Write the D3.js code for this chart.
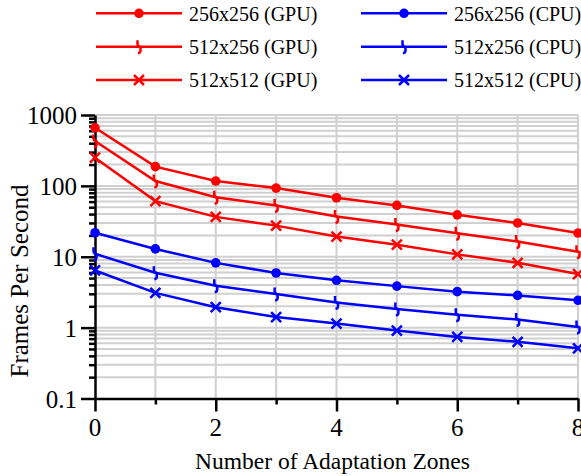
<!DOCTYPE html>
<html>
<head>
<meta charset="utf-8">
<script src="https://cdn.jsdelivr.net/npm/d3@7"></script>
<style>
  body { margin: 0; background: #fff; }
  text { font-family: "Liberation Serif", "Times New Roman", serif; fill: #000; }
</style>
</head>
<body>
<div id="my_dataviz"></div>
<script>
// data
var zones = [0, 1, 2, 3, 4, 5, 6, 7, 8];
var gpu256x256 = [660, 187, 117, 93, 68, 53, 39, 30, 21.6];
var gpu512x256 = [430, 117, 69, 53, 37, 28.5, 21.5, 16.4, 11.8];
var gpu512x512 = [250, 61, 36.5, 27.5, 19.3, 14.8, 10.8, 8.2, 5.7];
var cpu256x256 = [21.8, 12.9, 8.2, 5.9, 4.65, 3.85, 3.22, 2.85, 2.43];
var cpu512x256 = [11, 5.95, 3.9, 2.98, 2.27, 1.83, 1.52, 1.3, 1.02];
var cpu512x512 = [6.4, 3.09, 1.94, 1.41, 1.14, 0.91, 0.74, 0.63, 0.51];
var yTickLabels = ["0.1", "1", "10", "100", "1000"];
var xTickLabels = ["0", "2", "4", "6", "8"];

var series = [
    { name: "256x256 (GPU)", values: gpu256x256, color: "#ff0000", marker: "circle" },
    { name: "512x256 (GPU)", values: gpu512x256, color: "#ff0000", marker: "squiggle" },
    { name: "512x512 (GPU)", values: gpu512x512, color: "#ff0000", marker: "cross" },
    { name: "256x256 (CPU)", values: cpu256x256, color: "#0000ff", marker: "circle" },
    { name: "512x256 (CPU)", values: cpu512x256, color: "#0000ff", marker: "squiggle" },
    { name: "512x512 (CPU)", values: cpu512x512, color: "#0000ff", marker: "cross" }
];

var W = 581, H = 476;
var margin = { top: 115, right: 3, bottom: 77.5, left: 95 },
    width = W - margin.left - margin.right,
    height = H - margin.top - margin.bottom;

var svg = d3
    .select("#my_dataviz")
    .append("svg")
    .attr("width", W)
    .attr("height", H);

var g = svg.append("g")
    .attr("transform", "translate(" + margin.left + "," + margin.top + ")");

var x = d3.scaleLinear().domain([0, 8]).range([0, width]);
var y = d3.scaleLog().domain([0.1, 1000]).range([height, 0]);

// all log ticks 1..9 per decade
var minorVals = [];
[0.1, 1, 10, 100].forEach(function (d) {
    for (var k = 1; k < 10; k++) minorVals.push(d * k);
});
minorVals.push(1000);
var majorVals = yTickLabels.map(Number);

// grid
g.append("g")
    .selectAll("line")
    .data(minorVals.filter(function (d) { return d > 0.1; }))
    .enter()
    .append("line")
    .attr("x1", 0)
    .attr("x2", width)
    .attr("y1", function (d) { return y(d); })
    .attr("y2", function (d) { return y(d); })
    .style("stroke", "#d0d0d0")
    .style("stroke-width", 2);

g.append("g")
    .selectAll("line")
    .data(zones.slice(1))
    .enter()
    .append("line")
    .attr("x1", function (d) { return x(d); })
    .attr("x2", function (d) { return x(d); })
    .attr("y1", 0)
    .attr("y2", height)
    .style("stroke", "#d0d0d0")
    .style("stroke-width", 2);

// Y axis: major ticks long, minor short (labels drawn separately)
var yAxis = g.append("g")
    .call(d3.axisLeft(y)
        .tickValues(minorVals)
        .tickSizeInner(6)
        .tickSizeOuter(0)
        .tickFormat(""));
yAxis.selectAll(".tick line")
    .attr("x2", function (d) { return majorVals.indexOf(d) >= 0 ? -14 : -6; })
    .style("stroke-width", 2.5);
yAxis.select(".domain").style("stroke-width", 2.5);

g.append("g")
    .selectAll("text")
    .data(majorVals)
    .enter()
    .append("text")
    .attr("x", -18)
    .attr("y", function (d) { return y(d); })
    .attr("dy", "0.36em")
    .attr("text-anchor", "end")
    .style("font-size", "25px")
    .text(function (d, i) { return yTickLabels[i]; });

// X axis: even ticks long, odd short
var xAxis = g.append("g")
    .attr("transform", "translate(0," + height + ")")
    .call(d3.axisBottom(x)
        .tickValues(zones)
        .tickSizeInner(6)
        .tickSizeOuter(0)
        .tickFormat(""));
xAxis.selectAll(".tick line")
    .attr("y2", function (d) { return d % 2 === 0 ? 13 : 6; })
    .style("stroke-width", 2.5);
xAxis.select(".domain").style("stroke-width", 2.5);

g.append("g")
    .selectAll("text")
    .data(xTickLabels)
    .enter()
    .append("text")
    .attr("x", function (d) { return x(+d); })
    .attr("y", height + 37)
    .attr("text-anchor", "middle")
    .style("font-size", "25px")
    .text(function (d) { return d; });

// marker drawing
function drawMarker(sel, type, color) {
    if (type === "circle") {
        sel.append("circle")
            .attr("r", 4.8)
            .style("fill", color);
    } else if (type === "cross") {
        sel.append("path")
            .attr("d", "M-5,-5L5,5M-5,5L5,-5")
            .style("fill", "none")
            .style("stroke", color)
            .style("stroke-width", 2.5);
    } else {
        sel.append("path")
            .attr("d", "M-1.5,-6.5L-1.5,-2.5Q-1.5,-0.5 1.5,0.5L1.5,4Q1.5,6 -1,6.5")
            .style("fill", "none")
            .style("stroke", color)
            .style("stroke-width", 2.5);
    }
}

// lines
var line = d3.line()
    .x(function (d, i) { return x(zones[i]); })
    .y(function (d) { return y(d); });

series.forEach(function (s) {
    g.append("path")
        .datum(s.values)
        .attr("d", line)
        .style("fill", "none")
        .style("stroke", s.color)
        .style("stroke-width", 2.5);

    g.append("g")
        .selectAll("g")
        .data(s.values)
        .enter()
        .append("g")
        .attr("transform", function (d, i) {
            return "translate(" + x(zones[i]) + "," + y(d) + ")";
        })
        .each(function () { drawMarker(d3.select(this), s.marker, s.color); });
});

// axis titles
svg.append("text")
    .attr("x", margin.left + width / 2 - 4)
    .attr("y", 469)
    .attr("text-anchor", "middle")
    .style("font-size", "23.5px")
    .text("Number of Adaptation Zones");

svg.append("text")
    .attr("transform", "translate(28," + 281 + ") rotate(-90)")
    .attr("text-anchor", "middle")
    .style("font-size", "25px")
    .text("Frames Per Second");

// legend
var legX = [96, 361], legY = [13.3, 46.7, 80];
series.forEach(function (s, i) {
    var col = Math.floor(i / 3), row = i % 3;
    var lg = svg.append("g")
        .attr("transform", "translate(" + legX[col] + "," + legY[row] + ")");
    lg.append("line")
        .attr("x1", 0)
        .attr("x2", 86)
        .style("stroke", s.color)
        .style("stroke-width", 2.5);
    drawMarker(lg.append("g").attr("transform", "translate(43,0)"), s.marker, s.color);
    lg.append("text")
        .attr("x", 93)
        .attr("y", 7.4)
        .style("font-size", "20px")
        .text(s.name);
});
</script>
</body>
</html>
